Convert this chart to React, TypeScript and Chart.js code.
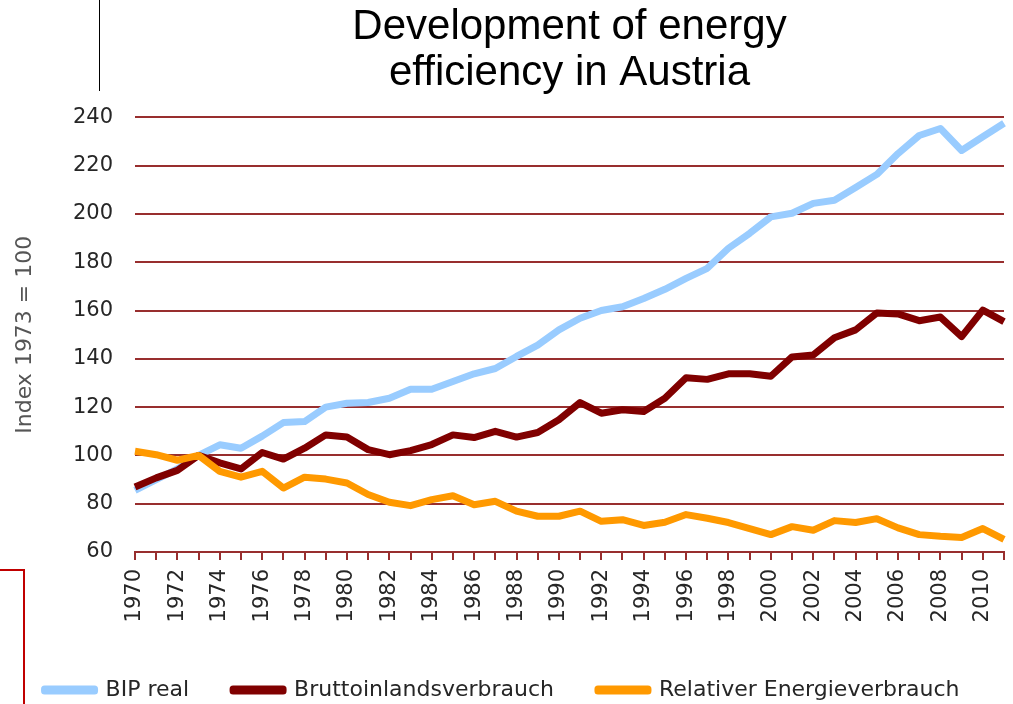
import React, { useEffect, useRef } from "react";
import { Chart, registerables } from "chart.js";

Chart.register(...registerables);

const years: string[] = [
  "1970","1971","1972","1973","1974","1975","1976","1977","1978","1979",
  "1980","1981","1982","1983","1984","1985","1986","1987","1988","1989",
  "1990","1991","1992","1993","1994","1995","1996","1997","1998","1999",
  "2000","2001","2002","2003","2004","2005","2006","2007","2008","2009",
  "2010","2011",
];

const bipReal: number[] = [
  85.5, 90, 94.4, 100, 104.4, 103, 108, 113.6, 114, 120,
  121.6, 121.9, 123.7, 127.4, 127.4, 130.6, 133.8, 136, 141, 145.7,
  152, 156.8, 160, 161.6, 165, 168.8, 173.3, 177.5, 185.8, 192,
  198.8, 200.3, 204.4, 205.7, 211, 216.4, 225, 232.5, 235.4, 226.3,
  232, 237.6,
];

const bruttoinlandsverbrauch: number[] = [
  86.9, 90.7, 93.8, 100, 96.9, 94.4, 101.2, 98.5, 103, 108.5,
  107.6, 102.4, 100.3, 102, 104.5, 108.5, 107.4, 110, 107.6, 109.5,
  114.8, 121.9, 117.5, 118.9, 118.2, 123.7, 132.2, 131.5, 133.8, 133.8,
  132.8, 140.8, 141.6, 148.7, 152, 159, 158.6, 155.8, 157.3, 149.2,
  160.2, 155.4,
];

const relativerEnergieverbrauch: number[] = [
  101.7, 100.3, 98, 100, 93.4, 91, 93.4, 86.5, 91, 90.2,
  88.6, 83.8, 80.6, 79.2, 81.7, 83.3, 79.6, 81, 76.9, 74.8,
  74.8, 76.9, 72.7, 73.4, 71, 72.3, 75.5, 74, 72.2, 69.7,
  67.2, 70.5, 69, 73, 72.2, 73.8, 70, 67.2, 66.5, 66,
  69.7, 65.2,
];

const seriesNames: string[] = ["BIP real", "Bruttoinlandsverbrauch", "Relativer Energieverbrauch"];
const titleLines: string[] = ["Development of energy", "efficiency in Austria"];
const yAxisTitle = "Index 1973 = 100";

const GRID = "#982e2e";
const TEXT = "#262626";
const TICK_FONT = { family: "'DejaVu Sans', Verdana, sans-serif", size: 21 };
const LINE_W = 7;

export default function App() {
  const ref = useRef<HTMLCanvasElement | null>(null);

  useEffect(() => {
    if (!ref.current) return;
    const mk = (label: string, data: number[], color: string, order: number) => ({
      label,
      data,
      borderColor: color,
      backgroundColor: color,
      borderWidth: LINE_W,
      pointRadius: 0,
      borderJoinStyle: "round",
      order,
    });
    const chart = new Chart(ref.current, {
      type: "line",
      data: {
        labels: years,
        datasets: [
          mk(seriesNames[0], bipReal, "#99ccff", 3),
          mk(seriesNames[1], bruttoinlandsverbrauch, "#800000", 2),
          mk(seriesNames[2], relativerEnergieverbrauch, "#ff9900", 1),
        ],
      },
      options: {
        animation: false,
        responsive: true,
        maintainAspectRatio: false,
        devicePixelRatio: 1,
        layout: { padding: { left: 0, right: 9, top: 0, bottom: -7 } },
        plugins: {
          tooltip: { enabled: false },
          title: {
            display: true,
            text: titleLines,
            fullSize: false,
            color: "#000000",
            font: { family: "'Liberation Sans', Arial, sans-serif", size: 42, weight: "normal", lineHeight: 1.1 },
            padding: { top: 4, bottom: 21 },
          },
          legend: {
            position: "bottom",
            labels: {
              boxWidth: 50,
              boxHeight: 2,
              padding: 44,
              color: TEXT,
              font: { family: "'DejaVu Sans', Verdana, sans-serif", size: 22 },
              sort: (a: any, b: any) => a.datasetIndex - b.datasetIndex,
            },
          },
        },
        scales: {
          x: {
            type: "category",
            offset: false,
            grid: {
              display: true,
              drawOnChartArea: false,
              drawTicks: true,
              tickLength: 8,
              color: GRID,
              lineWidth: 2,
            },
            border: { display: true, color: GRID, width: 2 },
            ticks: {
              autoSkip: false,
              maxRotation: 90,
              minRotation: 90,
              padding: 9,
              color: TEXT,
              font: TICK_FONT,
              callback: (_v: any, i: number) => (i % 2 === 0 ? years[i] : ""),
            },
            afterFit: (s: any) => {
              s.height = 83;
              s.paddingLeft = 0;
              s.paddingRight = 0;
            },
          },
          y: {
            min: 60,
            max: 240,
            ticks: { stepSize: 20, padding: 22, color: TEXT, font: TICK_FONT },
            grid: { drawTicks: false, color: GRID, lineWidth: 2 },
            border: { display: false },
            title: {
              display: true,
              text: yAxisTitle,
              color: "#555555",
              font: { family: "'DejaVu Sans', Verdana, sans-serif", size: 22 },
              padding: { top: 12, bottom: 0 },
            },
            afterFit: (s: any) => {
              s.width = 135;
            },
          },
        },
      },
    } as any);
    return () => chart.destroy();
  }, []);

  return (
    <div style={{ position: "absolute", left: 0, top: 0, width: 1013, height: 704, overflow: "hidden", background: "#fff" }}>
      <canvas ref={ref} style={{ display: "block", width: "100%", height: "100%" }} />
      <div style={{ position: "absolute", left: 99, top: 0, width: 1, height: 91, background: "#000" }} />
      <div style={{ position: "absolute", left: 0, top: 569, width: 25, height: 2, background: "#c00000" }} />
      <div style={{ position: "absolute", left: 23, top: 569, width: 2, height: 135, background: "#c00000" }} />
    </div>
  );
}
